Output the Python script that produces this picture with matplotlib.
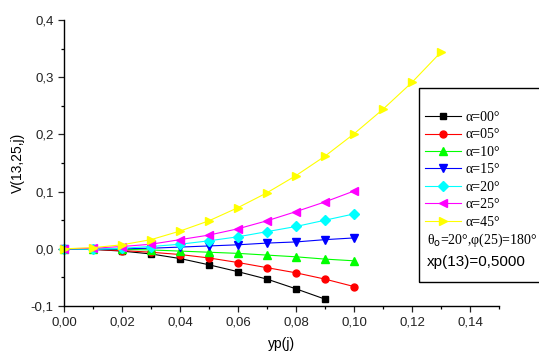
import matplotlib.pyplot as plt
from matplotlib.ticker import FuncFormatter, MultipleLocator
from matplotlib.patches import Rectangle

yp = [0.00, 0.01, 0.02, 0.03, 0.04, 0.05, 0.06, 0.07, 0.08, 0.09, 0.10, 0.11, 0.12, 0.13]

v_a00 = [0.0, -0.001, -0.004, -0.009, -0.017, -0.028, -0.040, -0.053, -0.070, -0.088]
v_a05 = [0.0, -0.001, -0.003, -0.006, -0.010, -0.016, -0.024, -0.033, -0.042, -0.053, -0.066]
v_a10 = [0.0, -0.0005, -0.001, -0.002, -0.004, -0.006, -0.008, -0.011, -0.014, -0.018, -0.021]
v_a15 = [0.0, -0.001, 0.0, 0.001, 0.003, 0.005, 0.007, 0.010, 0.012, 0.016, 0.019]
v_a20 = [0.0, -0.001, 0.001, 0.004, 0.008, 0.014, 0.021, 0.030, 0.039, 0.050, 0.061]
v_a25 = [0.0, 0.001, 0.004, 0.008, 0.016, 0.024, 0.035, 0.049, 0.065, 0.082, 0.101]
v_a45 = [0.0, 0.002, 0.007, 0.016, 0.031, 0.049, 0.072, 0.098, 0.128, 0.162, 0.201, 0.244, 0.291, 0.344]

series = [
    ("\u03b1=00\u00b0", v_a00, "#000000", "s"),
    ("\u03b1=05\u00b0", v_a05, "#ff0000", "o"),
    ("\u03b1=10\u00b0", v_a10, "#00ff00", "^"),
    ("\u03b1=15\u00b0", v_a15, "#0000ff", "v"),
    ("\u03b1=20\u00b0", v_a20, "#00ffff", "D"),
    ("\u03b1=25\u00b0", v_a25, "#ff00ff", "<"),
    ("\u03b1=45\u00b0", v_a45, "#ffff00", ">"),
]

plt.rcParams['font.family'] = ['Liberation Sans', 'DejaVu Sans']

fig = plt.figure(figsize=(5.39, 3.54), dpi=100)
ax = fig.add_axes([64 / 539, 1 - 306 / 354, 435 / 539, 286 / 354])

handles = []
for label, vals, color, marker in series:
    ms = 5 if marker in ("s", "o", "D") else 6
    h, = ax.plot(yp[:len(vals)], vals, color=color, marker=marker, markersize=ms,
                 linewidth=0.8, label=label, clip_on=False)
    handles.append(h)

ax.set_xlim(0, 0.15)
ax.set_ylim(-0.1, 0.4)
ax.xaxis.set_major_locator(MultipleLocator(0.02))
ax.xaxis.set_minor_locator(MultipleLocator(0.01))
ax.yaxis.set_major_locator(MultipleLocator(0.1))
ax.yaxis.set_minor_locator(MultipleLocator(0.05))
ax.xaxis.set_major_formatter(FuncFormatter(lambda v, p: f"{v:.2f}".replace(".", ",")))
ax.yaxis.set_major_formatter(FuncFormatter(lambda v, p: f"{v:.1f}".replace(".", ",").replace("-0,0", "0,0")))
ax.tick_params(which="major", direction="out", length=4, width=0.9, labelsize=9.5, colors="#222222")
ax.tick_params(which="minor", direction="out", length=2.5, width=0.9)
ax.spines["top"].set_visible(False)
ax.spines["right"].set_visible(False)
for s in ("left", "bottom"):
    ax.spines[s].set_linewidth(1.0)

ax.set_xlabel("yp(j)", fontsize=10, labelpad=6)
ax.set_ylabel("V(13,25,j)", fontsize=10, labelpad=4)

# legend frame runs off the right edge
fig.patches.append(Rectangle((419 / 539, 1 - 282 / 354), 0.3, 194 / 354,
                             transform=fig.transFigure, fill=False,
                             edgecolor="black", linewidth=1.0))
fig.legend(handles=handles, loc="upper left", bbox_to_anchor=(425 / 539, 1 - 111 / 354),
           frameon=False, prop={"family": "Liberation Serif", "size": 10},
           handlelength=2.6, handletextpad=0.3, labelspacing=0.32, borderpad=0,
           borderaxespad=0)
fig.text(427 / 539, 1 - 240 / 354, "\u03b8$_{\\mathrm{o}}$=20\u00b0,\u03c6(25)=180\u00b0",
         family="Liberation Serif", fontsize=10, ha="left", va="center")
fig.text(427 / 539, 1 - 262 / 354, "xp(13)=0,5000", fontsize=11, ha="left", va="center")

fig.savefig("out.png", dpi=100)
